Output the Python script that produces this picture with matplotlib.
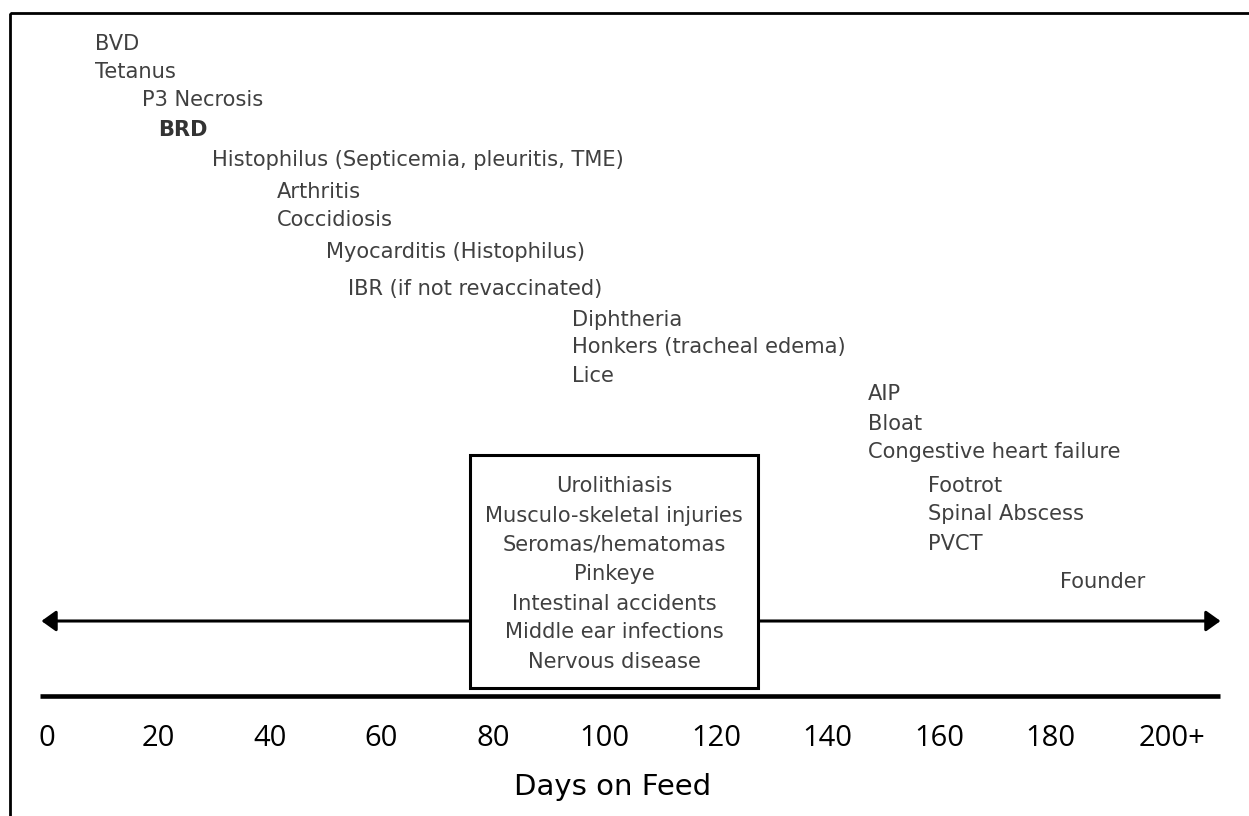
import matplotlib.pyplot as plt
from matplotlib.patches import Rectangle
from matplotlib.transforms import offset_copy

# labels above the timeline, with the day where each one starts
labels = ["BVD", "Tetanus", "P3 Necrosis", "BRD",
          "Histophilus (Septicemia, pleuritis, TME)",
          "Arthritis", "Coccidiosis", "Myocarditis (Histophilus)",
          "IBR (if not revaccinated)",
          "Diphtheria", "Honkers (tracheal edema)", "Lice",
          "AIP", "Bloat", "Congestive heart failure",
          "Footrot", "Spinal Abscess", "PVCT", "Founder"]
onset_days = [8.6, 8.6, 17.0, 19.9, 29.6, 41.3, 41.3, 50.0, 54.0,
              94.2, 94.2, 94.2, 147.3, 147.3, 147.3, 158.0, 158.0, 158.0, 181.7]

# problems seen all through the feeding period (the box)
anytime = ["Urolithiasis", "Musculo-skeletal injuries", "Seromas/hematomas",
           "Pinkeye", "Intestinal accidents", "Middle ear infections",
           "Nervous disease"]
box_days = (75.9, 127.5)

tick_days = [0, 20, 40, 60, 80, 100, 120, 140, 160, 180, 200]
tick_labels = ["0", "20", "40", "60", "80", "100", "120", "140", "160", "180", "200+"]

# layout: vertical rows (pixels from top) for each label
label_rows = [42, 70, 99, 129, 159, 190, 218, 250, 287,
              318, 346, 374, 393, 422, 450, 485, 513, 542, 580]
box_rows = [485, 515, 543, 572, 602, 630, 660]

W, H = 1249, 816
X0, PX_PER_DAY = 47, 5.575


def px2day(px):
    return (px - X0) / PX_PER_DAY


fig = plt.figure(figsize=(W / 100, H / 100), dpi=100)
ax = fig.add_axes([0, 0, 1, 1])
ax.set_xlim(px2day(0), px2day(W))
ax.set_ylim(H, 0)
ax.axis("off")

txt_col = "#404040"

# frame (only left and top show in the picture)
ax.add_patch(Rectangle((px2day(10), 13), px2day(1400) - px2day(10), 900,
                       fill=False, lw=2, ec="black", zorder=1))

for lab, d, r in zip(labels, onset_days, label_rows):
    bold = lab == "BRD"
    ax.text(d, r + 7.5, lab, ha="left", va="baseline", fontsize=15.1,
            family="DejaVu Sans", fontweight="bold" if bold else "normal",
            color="#333333" if bold else txt_col)

# double arrow
ax.annotate("", xy=(-1.0, 621), xytext=(210.5, 621),
            arrowprops=dict(arrowstyle="<|-|>,head_length=0.35,head_width=0.25",
                            lw=2.2, color="black", mutation_scale=25,
                            shrinkA=0, shrinkB=0), zorder=2)

# box in the middle
ax.add_patch(Rectangle((box_days[0], 455), box_days[1] - box_days[0], 233,
                       fc="white", ec="black", lw=2.2, zorder=3))
mid = (box_days[0] + box_days[1]) / 2
for lab, r in zip(anytime, box_rows):
    ax.text(mid, r + 7.5, lab, ha="center", va="baseline", fontsize=15.1,
            family="DejaVu Sans", color=txt_col, zorder=4)

# axis line and ticks
ax.plot([-1.3, 210.4], [696, 696], color="black", lw=3.3, solid_capstyle="butt")
plus_shift = offset_copy(ax.transData, fig=fig, x=10, y=0, units="dots")
for d, t in zip(tick_days, tick_labels):
    tr = plus_shift if t.endswith("+") else ax.transData
    ax.text(d, 746, t, ha="center", va="baseline", fontsize=21,
            family="Open Sans", color="black", transform=tr)

ax.text(mid - 0.2, 795, "Days on Feed", ha="center", va="baseline",
        fontsize=21, family="DejaVu Sans", color="black")

fig.savefig("out.png", dpi=100)
